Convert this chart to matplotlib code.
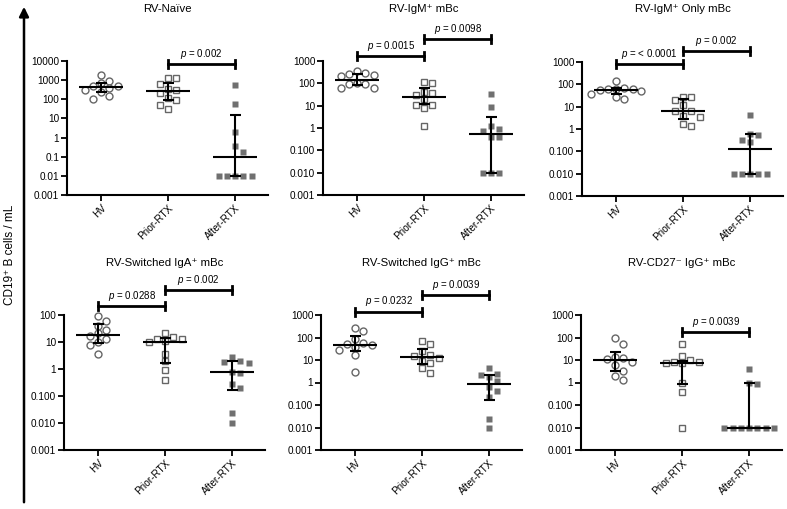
import numpy as np
import matplotlib.pyplot as plt
from matplotlib.patches import FancyArrowPatch

plt.rcParams['font.family'] = ['Liberation Sans', 'DejaVu Sans']
plt.rcParams['mathtext.fontset'] = 'custom'
plt.rcParams['mathtext.it'] = 'Liberation Sans:italic'
plt.rcParams['mathtext.rm'] = 'Liberation Sans'

groups = ['HV', 'Prior-RTX', 'After-RTX']

titles = ['RV-Naïve', 'RV-IgM⁺ mBc', 'RV-IgM⁺ Only mBc',
          'RV-Switched IgA⁺ mBc', 'RV-Switched IgG⁺ mBc', 'RV-CD27⁻ IgG⁺ mBc']

# cells / mL, one list per group
naive_hv = [1780, 910, 740, 520, 480, 390, 320, 240, 155, 108]
naive_prior = [1350, 1290, 660, 330, 320, 215, 110, 96, 48, 32]
naive_after = [590, 59, 2.0, 0.37, 0.18, 0.01, 0.01, 0.01, 0.01, 0.01]

igm_hv = [370, 280, 260, 240, 210, 100, 97, 90, 65, 62]
igm_prior = [115, 105, 43, 37, 31, 19, 11, 10.5, 7.6, 1.2]
igm_after = [35, 9, 1.2, 0.87, 0.7, 0.38, 0.38, 0.01, 0.01, 0.01]

igmonly_hv = [135, 70, 65, 62, 60, 55, 50, 37, 27, 21]
igmonly_prior = [26.5, 26, 20, 12, 6.6, 6.6, 4, 3.5, 1.7, 1.3]
igmonly_after = [4.4, 0.62, 0.55, 0.33, 0.25, 0.01, 0.01, 0.01, 0.01, 0.01]

iga_hv = [89, 58, 40, 28, 22, 16, 12.6, 10, 7.8, 3.5]
iga_prior = [21, 15, 12.6, 12.6, 11, 10, 3.5, 1.9, 0.9, 0.39]
iga_after = [2.9, 2.0, 1.8, 1.7, 0.75, 0.7, 0.27, 0.2, 0.023, 0.01]

igg_hv = [255, 200, 86, 57, 50, 45, 36, 29, 17, 2.8]
igg_prior = [70, 49, 24, 16, 15, 12.3, 9.3, 7.3, 4.2, 2.6]
igg_after = [4.4, 2.5, 2.2, 1.7, 1.2, 0.65, 0.40, 0.22, 0.025, 0.01]

cd27_hv = [97, 49, 13.5, 12.6, 10.7, 8.2, 5.8, 3.4, 2.0, 1.3]
cd27_prior = [49, 15, 10, 8, 8, 7.5, 7, 1.0, 0.37, 0.01]
cd27_after = [3.8, 0.93, 0.9, 0.01, 0.01, 0.01, 0.01, 0.01, 0.01, 0.01]

# median and interquartile range per group (HV, Prior, After)
medians = [[440, 260, 0.1], [140, 24, 0.54], [57, 6.6, 0.13],
           [18.5, 9.8, 0.78], [46, 13.5, 0.87], [10, 7.4, 0.01]]
q1s = [[240, 90, 0.01], [80, 12, 0.01], [37, 2.8, 0.01],
       [9.5, 1.6, 0.16], [26, 6.6, 0.17], [3.1, 0.85, 0.01]]
q3s = [[740, 740, 15], [250, 60, 3.2], [68, 22, 0.58],
       [46, 13.5, 2.0], [117, 31, 2.1], [23, 9.5, 0.95]]

panel_data = [
    [naive_hv, naive_prior, naive_after],
    [igm_hv, igm_prior, igm_after],
    [igmonly_hv, igmonly_prior, igmonly_after],
    [iga_hv, iga_prior, iga_after],
    [igg_hv, igg_prior, igg_after],
    [cd27_hv, cd27_prior, cd27_after],
]

labels_full = ['0.001', '0.010', '0.100', '1', '10', '100', '1000']
tick_labels = [
    ['0.001', '0.01', '0.1', '1', '10', '100', '1000', '10000'],
    labels_full, labels_full,
    labels_full[:-1],
    labels_full, labels_full,
]

# p-value brackets: (from group, to group, text)
p_brackets = [
    [(1, 2, '0.002')],
    [(0, 1, '0.0015'), (1, 2, '0.0098')],
    [(0, 1, '< 0.0001'), (1, 2, '0.002')],
    [(0, 1, '0.0288'), (1, 2, '0.002')],
    [(0, 1, '0.0232'), (1, 2, '0.0039')],
    [(1, 2, '0.0039')],
]
# layout: bracket heights (axes fraction)
bracket_y = [[0.975], [1.037, 1.162], [0.985, 1.08],
             [1.067, 1.185], [1.024, 1.148], [0.874]]

W, H = 787, 509
ax_rects_px = [(67, 61, 201, 134), (323, 61, 201, 134), (582, 62, 201, 134),
               (64, 315, 201, 135), (321, 315, 201, 135), (581, 315, 201, 135)]
title_y_px = [9, 9, 9, 263, 263, 263]

grey = '#666666'


def swarm(vals, ppd, step=8.3, diam=7.0, ppu=67.3):
    logs = np.log10(vals) * ppd
    offs = np.zeros(len(vals))
    placed = []
    cands = [0] + [s * m for m in range(1, 12) for s in (1, -1)]
    for idx in np.argsort(-logs, kind='stable'):
        y = logs[idx]
        for c in cands:
            x = c * step
            if all(np.hypot(x - px, y - py) >= diam for px, py in placed):
                break
        placed.append((x, y))
        offs[idx] = x / ppu
    return offs


fig = plt.figure(figsize=(W / 100, H / 100), dpi=100)

for k in range(6):
    l, t, w, h = ax_rects_px[k]
    ax = fig.add_axes([l / W, 1 - (t + h) / H, w / W, h / H])
    labs = tick_labels[k]
    ticks = [10.0 ** (e - 3) for e in range(len(labs))]
    ax.set_yscale('log')
    ax.set_ylim(ticks[0], ticks[-1])
    ppd = h / (len(labs) - 1)

    styles = [dict(marker='o', ms=5.0, mfc='white', mec=grey, mew=1.0),
              dict(marker='s', ms=4.8, mfc='white', mec=grey, mew=1.0),
              dict(marker='s', ms=4.2, mfc='#707070', mec='none')]
    for i, vals in enumerate(panel_data[k]):
        offs = swarm(vals, ppd)
        ax.plot(i + offs, vals, ls='none', zorder=2, clip_on=False, **styles[i])

    xs = np.arange(3)
    ax.hlines(medians[k], xs - 0.33, xs + 0.33, color='black', lw=1.5, zorder=3)
    ax.vlines(xs, q1s[k], q3s[k], color='black', lw=1.5, zorder=3)
    ax.hlines(q1s[k], xs - 0.08, xs + 0.08, color='black', lw=1.5, zorder=3)
    ax.hlines(q3s[k], xs - 0.08, xs + 0.08, color='black', lw=1.5, zorder=3)

    tr = ax.get_xaxis_transform()
    for (a, b, txt), yb in zip(p_brackets[k], bracket_y[k]):
        cap = 4.0 / h
        ax.plot([a, b], [yb, yb], color='black', lw=2, transform=tr, clip_on=False)
        ax.plot([a, a], [yb - cap, yb + cap], color='black', lw=2, transform=tr, clip_on=False)
        ax.plot([b, b], [yb - cap, yb + cap], color='black', lw=2, transform=tr, clip_on=False)
        ax.text((a + b) / 2, yb + 0.025, r'$\it{p}$ = ' + txt, transform=tr,
                ha='center', va='bottom', fontsize=7)

    ax.set_xlim(-0.51, 2.49)
    ax.set_xticks(xs)
    ax.set_xticklabels(groups, rotation=45, ha='right', rotation_mode='anchor', fontsize=7.2)
    ax.set_yticks(ticks)
    ax.set_yticklabels(labs, fontsize=7.2)
    ax.yaxis.set_minor_locator(plt.NullLocator())
    ax.tick_params(length=4, width=1.3, pad=1.5)
    for s in ['top', 'right']:
        ax.spines[s].set_visible(False)
    for s in ['left', 'bottom']:
        ax.spines[s].set_linewidth(1.5)
    ax.set_facecolor('none')

    fig.text((l + w / 2) / W, 1 - title_y_px[k] / H, titles[k],
             ha='center', va='center', fontsize=8.2)

# big y axis arrow with shared label
fig.add_artist(FancyArrowPatch((24 / W, 1 - 505 / H), (24 / W, 1 - 4 / H),
                               transform=fig.transFigure, arrowstyle='-|>',
                               mutation_scale=14, lw=1.8, color='black'))
fig.text(10 / W, 1 - 255 / H, 'CD19⁺ B cells / mL', rotation=90,
         ha='center', va='center', fontsize=8.5)

fig.savefig('out.png', dpi=100)
